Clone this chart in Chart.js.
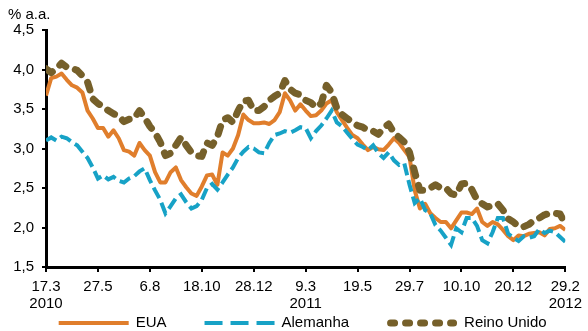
<!DOCTYPE html>
<html>
<head>
<meta charset="utf-8">
<script src="https://cdn.jsdelivr.net/npm/chart.js@4/dist/chart.umd.min.js"></script>
<style>
  html, body { margin: 0; padding: 0; background: #fff; }
  #c { display: block; }
</style>
</head>
<body>
<canvas id="c" width="588" height="331"></canvas>
<script>
// Weekly yields of 10-year government bonds, % a.a., 17.3.2010 – 29.2.2012
const tickLabels = [
  ["17.3", "2010"], ["27.5", ""], ["6.8", ""], ["18.10", ""], ["28.12", ""],
  ["9.3", "2011"], ["19.5", ""], ["29.7", ""], ["10.10", ""], ["20.12", ""], ["29.2", "2012"]
];

const seriesNames = ["EUA", "Alemanha", "Reino Unido"];

const eua = [
  3.67, 3.89, 3.91, 3.95, 3.87, 3.80, 3.77, 3.71, 3.48, 3.38,
  3.26, 3.26, 3.15, 3.23, 3.13, 2.98, 2.96, 2.91, 3.07, 2.98,
  2.91, 2.70, 2.57, 2.57, 2.70, 2.76, 2.60, 2.51, 2.43, 2.40,
  2.52, 2.66, 2.67, 2.54, 2.95, 2.91, 3.00, 3.17, 3.43, 3.36,
  3.32, 3.32, 3.33, 3.31, 3.36, 3.46, 3.70, 3.61, 3.48, 3.56,
  3.48, 3.41, 3.42, 3.48, 3.57, 3.61, 3.46, 3.36, 3.26, 3.17,
  3.13, 3.05, 2.98, 3.02, 2.99, 2.98, 3.05, 3.13, 3.07, 2.98,
  2.89, 2.47, 2.24, 2.30, 2.18, 2.12, 2.07, 2.07, 1.99, 2.09,
  2.19, 2.19, 2.17, 2.24, 2.07, 2.02, 2.07, 2.04, 1.97, 1.89,
  1.84, 1.90, 1.89, 1.92, 1.93, 1.94, 1.90, 1.98, 1.99, 2.02,
  1.97
];

const alemanha = [
  3.10, 3.14, 3.10, 3.15, 3.13, 3.08, 3.04, 2.96, 2.88, 2.76,
  2.62, 2.66, 2.61, 2.64, 2.59, 2.57, 2.62, 2.65, 2.71, 2.75,
  2.60, 2.47, 2.35, 2.18, 2.27, 2.37, 2.42, 2.32, 2.24, 2.27,
  2.35, 2.50, 2.55, 2.48, 2.57, 2.67, 2.76, 2.88, 2.96, 3.02,
  3.00, 2.95, 2.94, 3.07, 3.17, 3.19, 3.22, 3.20, 3.23, 3.27,
  3.26, 3.13, 3.22, 3.29, 3.38, 3.48, 3.33, 3.28, 3.20, 3.12,
  3.05, 3.02, 2.98, 3.04, 2.94, 2.88, 2.95, 2.85, 2.79, 2.81,
  2.54, 2.31, 2.37, 2.22, 2.18, 2.03, 1.96, 1.87, 1.78, 1.99,
  1.94, 2.12, 2.12, 2.02, 1.84, 1.80, 1.94, 2.12, 2.12, 1.92,
  1.87, 1.83, 1.89, 1.87, 1.89, 1.98, 1.93, 1.96, 1.94, 1.88,
  1.82
];

const reinoUnido = [
  4.01, 3.96, 4.01, 4.08, 4.03, 4.01, 3.99, 3.92, 3.84, 3.63,
  3.57, 3.53, 3.48, 3.44, 3.41, 3.34, 3.37, 3.38, 3.48, 3.39,
  3.28, 3.20, 3.08, 2.91, 2.94, 3.04, 3.14, 3.04, 2.95, 2.91,
  2.90, 3.07, 3.04, 3.15, 3.36, 3.39, 3.33, 3.48, 3.60, 3.61,
  3.48, 3.48, 3.53, 3.61, 3.66, 3.70, 3.86, 3.75, 3.70, 3.68,
  3.61, 3.58, 3.52, 3.57, 3.80, 3.71, 3.51, 3.43, 3.38, 3.33,
  3.29, 3.27, 3.23, 3.22, 3.18, 3.26, 3.31, 3.20, 3.14, 3.08,
  2.95, 2.70, 2.47, 2.47, 2.50, 2.54, 2.50, 2.50, 2.43, 2.41,
  2.55, 2.56, 2.48, 2.35, 2.30, 2.26, 2.28, 2.30, 2.22, 2.11,
  2.07, 2.01, 2.01, 2.04, 2.09, 2.12, 2.16, 2.18, 2.18, 2.17,
  2.04
];

const FONT = '"Liberation Sans", Arial, sans-serif';
const toPoints = arr => arr.map((v, i) => ({ x: i, y: v }));

// Unit label above the value axis and the legend row under the dates
const extras = {
  id: 'extras',
  afterDraw(chart) {
    const ctx = chart.ctx;
    const area = chart.chartArea;
    ctx.save();
    ctx.fillStyle = '#000';
    ctx.font = '15px ' + FONT;
    ctx.textBaseline = 'middle';
    ctx.textAlign = 'left';
    ctx.fillText('% a.a.', 8, 15);

    const sampleW = 70, gapText = 7, spacing = 38, y = 323;
    const items = chart.data.datasets.map(ds => ({
      ds, tw: ctx.measureText(ds.label).width
    }));
    const total = items.reduce((s, it) => s + sampleW + gapText + it.tw, 0) + spacing * (items.length - 1);
    let x = (area.left + area.right) / 2 - 3 - total / 2;
    items.forEach(({ ds, tw }) => {
      ctx.save();
      ctx.strokeStyle = ds.borderColor;
      ctx.lineWidth = ds.borderWidth;
      ctx.lineCap = ds.borderCapStyle || 'butt';
      ctx.setLineDash(ds.legendDash || ds.borderDash || []);
      const inset = ctx.lineCap === 'round' ? ds.borderWidth / 2 : 0;
      ctx.beginPath();
      ctx.moveTo(x + inset, y);
      ctx.lineTo(x + sampleW - inset, y);
      ctx.stroke();
      ctx.restore();
      ctx.fillText(ds.label, x + sampleW + gapText, y);
      x += sampleW + gapText + tw + spacing;
    });
    ctx.restore();
  }
};

new Chart(document.getElementById('c'), {
  type: 'line',
  data: {
    datasets: [
      {
        label: seriesNames[0], data: toPoints(eua),
        borderColor: '#E07E2C', borderWidth: 4, borderJoinStyle: 'round',
        order: 3
      },
      {
        label: seriesNames[1], data: toPoints(alemanha),
        borderColor: '#17A2C6', borderWidth: 4, borderDash: [12, 5], legendDash: [18, 8],
        order: 2
      },
      {
        label: seriesNames[2], data: toPoints(reinoUnido),
        borderColor: '#76602A', borderWidth: 7, borderDash: [8, 10], legendDash: [4, 11],
        borderCapStyle: 'round', borderJoinStyle: 'round',
        order: 1
      }
    ]
  },
  options: {
    responsive: false,
    animation: false,
    events: [],
    layout: { padding: { top: 30, right: 20, left: 0, bottom: 0 } },
    elements: { point: { radius: 0 }, line: { tension: 0, fill: false } },
    plugins: { legend: { display: false }, tooltip: { enabled: false }, title: { display: false } },
    scales: {
      x: {
        type: 'linear', min: 0, max: 100,
        afterFit: s => { s.height = 64; },
        ticks: {
          stepSize: 10, autoSkip: false, maxRotation: 0, padding: 6,
          color: '#000', font: { family: FONT, size: 15, lineHeight: 1.13 },
          callback: v => tickLabels[v / 10]
        },
        grid: { drawOnChartArea: false, drawTicks: true, tickLength: 5, color: '#000', lineWidth: 2 },
        border: { color: '#000', width: 3 }
      },
      y: {
        min: 1.5, max: 4.5,
        afterFit: s => { s.width = 46; },
        ticks: {
          stepSize: 0.5, padding: 8, color: '#000',
          font: { family: FONT, size: 15 },
          callback: v => v.toFixed(1).replace('.', ',')
        },
        grid: { drawOnChartArea: false, drawTicks: true, tickLength: 4, color: '#000', lineWidth: 2 },
        border: { color: '#000', width: 3 }
      }
    }
  },
  plugins: [extras]
});
</script>
</body>
</html>
